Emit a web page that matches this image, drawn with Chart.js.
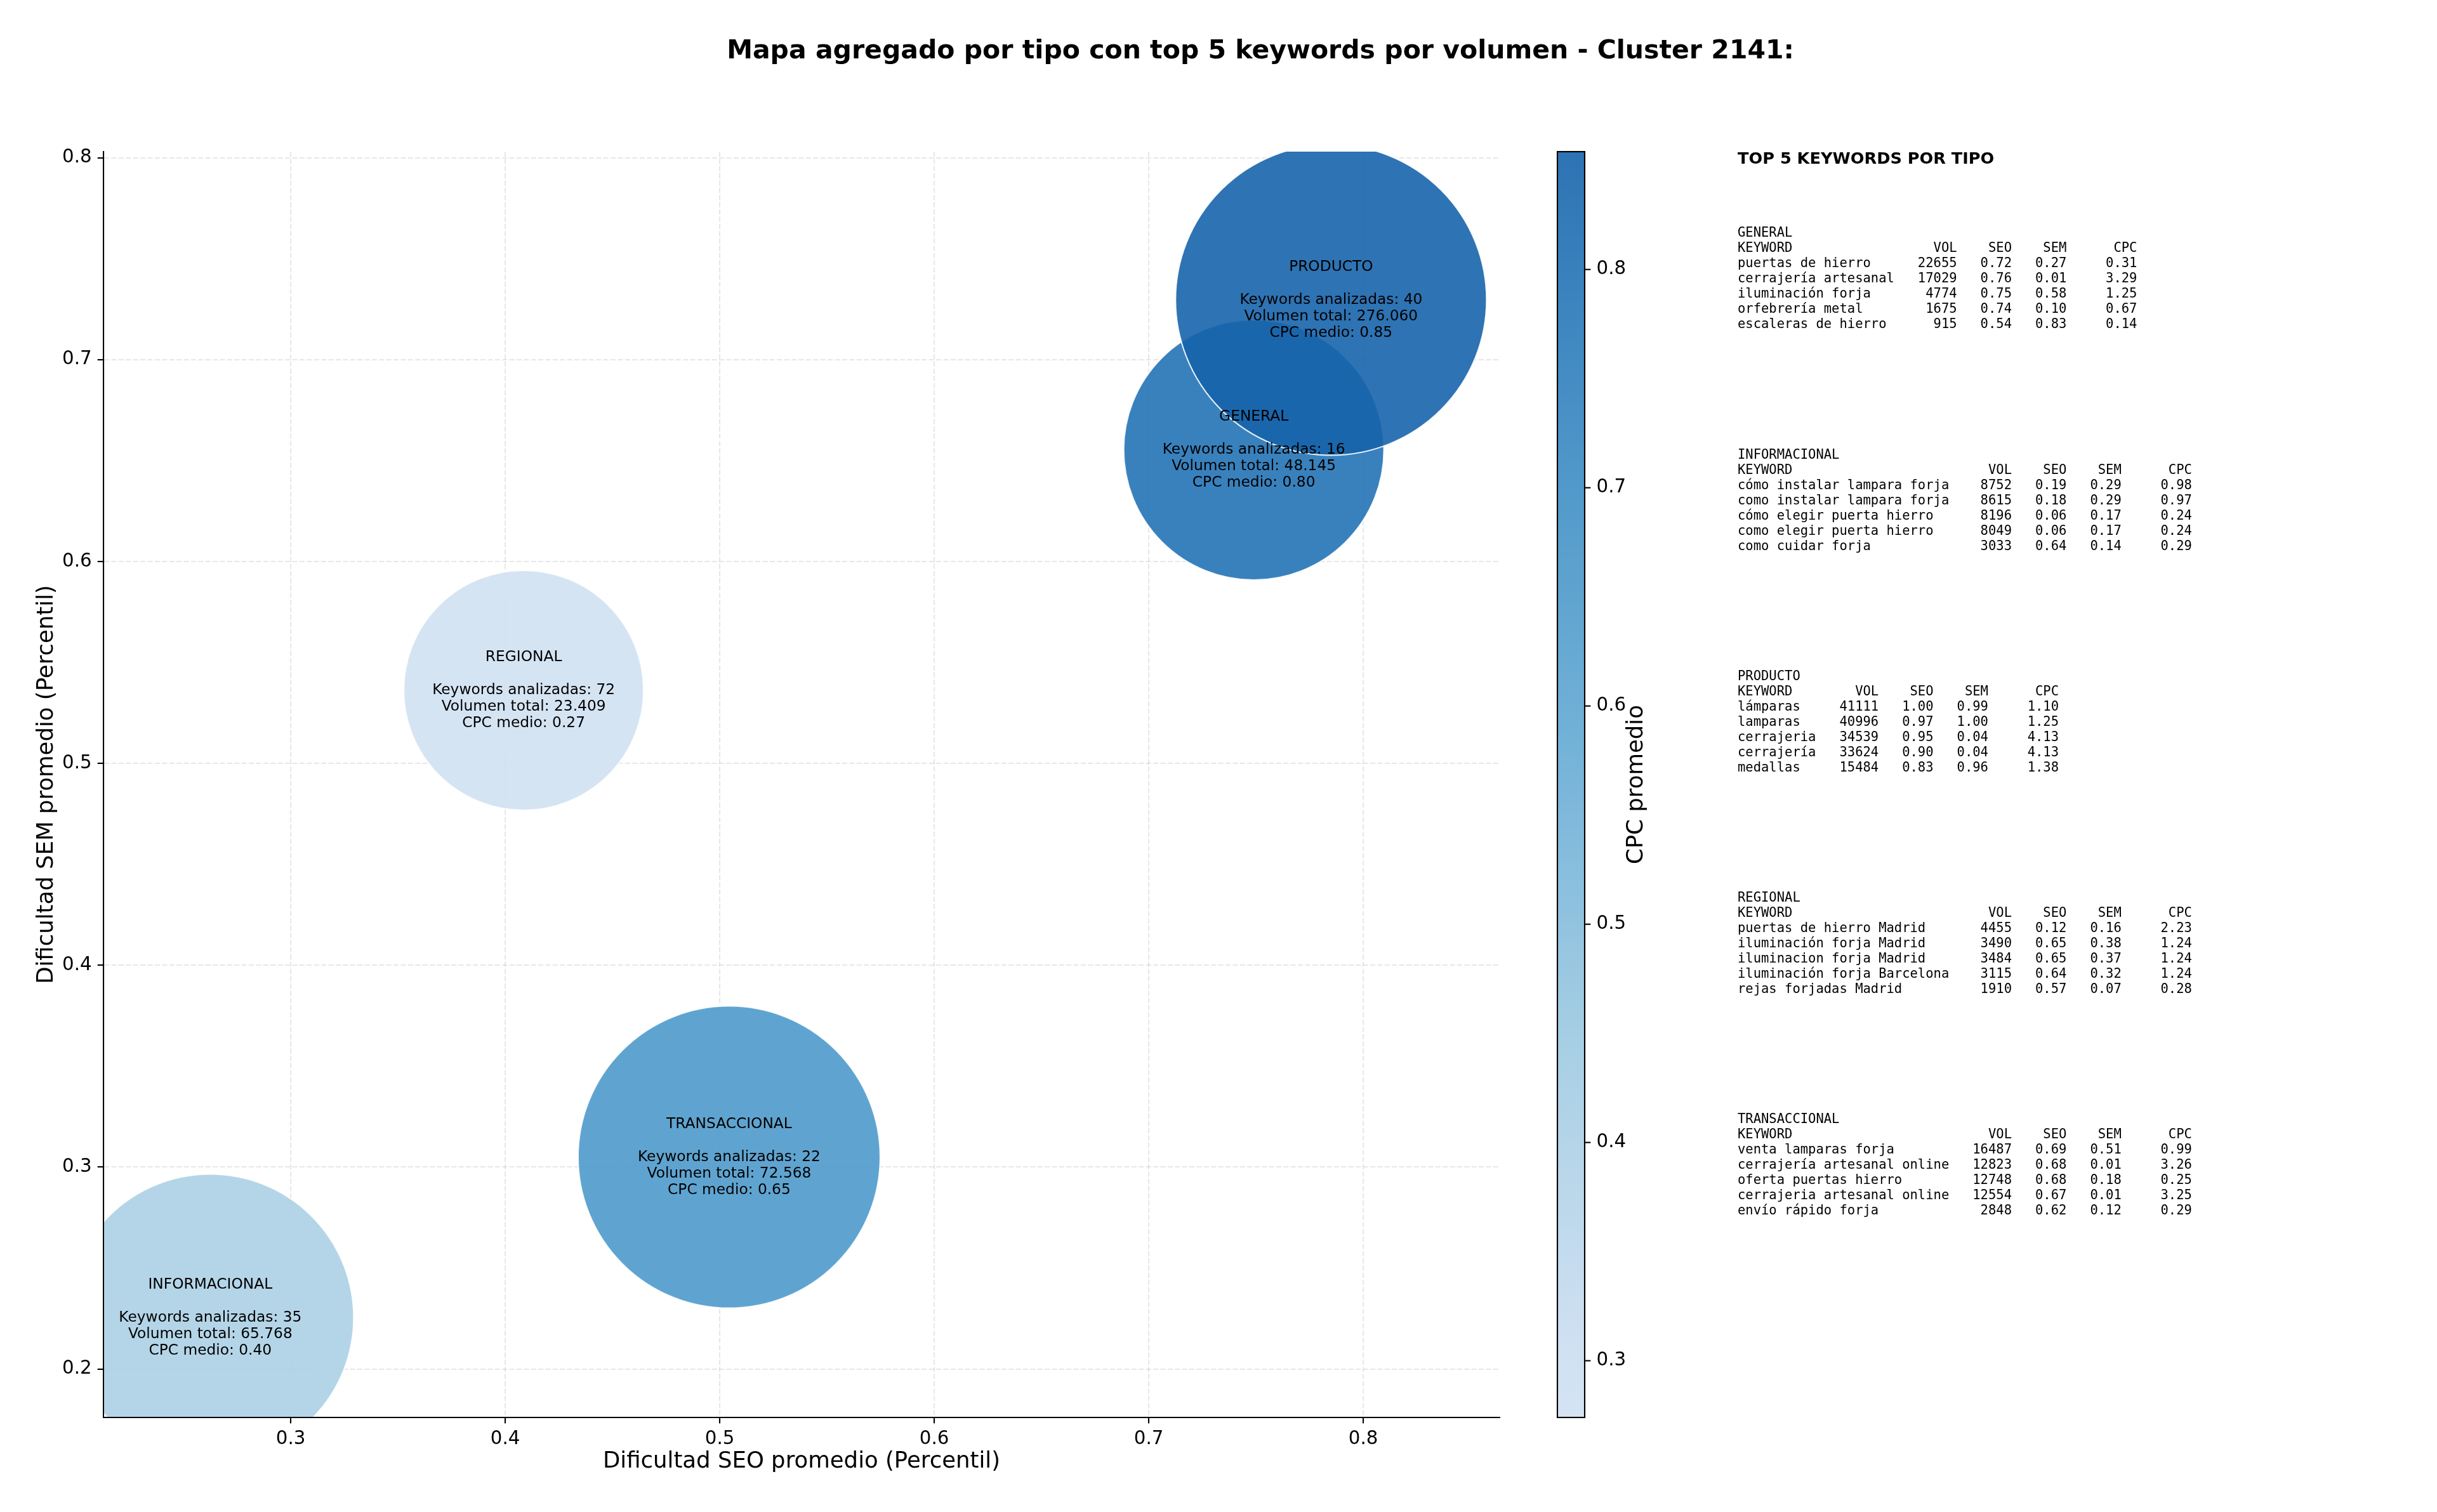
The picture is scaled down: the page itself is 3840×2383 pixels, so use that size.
<!DOCTYPE html>
<html>
<head>
<meta charset="utf-8">
<script src="https://cdn.jsdelivr.net/npm/chart.js@4.4.1/dist/chart.umd.min.js"></script>
<style>
  html, body { margin: 0; padding: 0; background: #fff; }
  #wrap { width: 3840px; height: 2383px; }
</style>
</head>
<body>
<div id="wrap"><canvas id="mapa" width="3840" height="2383"></canvas></div>
<script>
// valores agregados por tipo
var tipos = ["GENERAL", "INFORMACIONAL", "PRODUCTO", "REGIONAL", "TRANSACCIONAL"];
var seoMedio = [0.749, 0.2625, 0.785, 0.4086, 0.5044];
var semMedio = [0.6553, 0.2255, 0.7296, 0.5362, 0.3050];
var cpcMedio = [0.80, 0.40, 0.854, 0.274, 0.65];
var numKeywords = [16, 35, 40, 72, 22];
var volumenTotal = [48145, 65768, 276060, 23409, 72568];
var radioBurbuja = [205, 226, 245, 189, 238];

// ejes
var xTicks = [0.3, 0.4, 0.5, 0.6, 0.7, 0.8];
var yTicks = [0.2, 0.3, 0.4, 0.5, 0.6, 0.7, 0.8];
var cbTicks = [0.3, 0.4, 0.5, 0.6, 0.7, 0.8];
var xRange = [0.2127, 0.8636];
var yRange = [0.176, 0.803];

// top 5 keywords por tipo: keyword, vol, seo, sem, cpc
var topGeneral = [
  ["puertas de hierro", 22655, 0.72, 0.27, 0.31],
  ["cerrajería artesanal", 17029, 0.76, 0.01, 3.29],
  ["iluminación forja", 4774, 0.75, 0.58, 1.25],
  ["orfebrería metal", 1675, 0.74, 0.10, 0.67],
  ["escaleras de hierro", 915, 0.54, 0.83, 0.14]
];
var topInformacional = [
  ["cómo instalar lampara forja", 8752, 0.19, 0.29, 0.98],
  ["como instalar lampara forja", 8615, 0.18, 0.29, 0.97],
  ["cómo elegir puerta hierro", 8196, 0.06, 0.17, 0.24],
  ["como elegir puerta hierro", 8049, 0.06, 0.17, 0.24],
  ["como cuidar forja", 3033, 0.64, 0.14, 0.29]
];
var topProducto = [
  ["lámparas", 41111, 1.00, 0.99, 1.10],
  ["lamparas", 40996, 0.97, 1.00, 1.25],
  ["cerrajeria", 34539, 0.95, 0.04, 4.13],
  ["cerrajería", 33624, 0.90, 0.04, 4.13],
  ["medallas", 15484, 0.83, 0.96, 1.38]
];
var topRegional = [
  ["puertas de hierro Madrid", 4455, 0.12, 0.16, 2.23],
  ["iluminación forja Madrid", 3490, 0.65, 0.38, 1.24],
  ["iluminacion forja Madrid", 3484, 0.65, 0.37, 1.24],
  ["iluminación forja Barcelona", 3115, 0.64, 0.32, 1.24],
  ["rejas forjadas Madrid", 1910, 0.57, 0.07, 0.28]
];
var topTransaccional = [
  ["venta lamparas forja", 16487, 0.69, 0.51, 0.99],
  ["cerrajería artesanal online", 12823, 0.68, 0.01, 3.26],
  ["oferta puertas hierro", 12748, 0.68, 0.18, 0.25],
  ["cerrajeria artesanal online", 12554, 0.67, 0.01, 3.25],
  ["envío rápido forja", 2848, 0.62, 0.12, 0.29]
];
var topPorTipo = [topGeneral, topInformacional, topProducto, topRegional, topTransaccional];

var cpcMin = Math.min.apply(null, cpcMedio);
var cpcMax = Math.max.apply(null, cpcMedio);

// matplotlib "Blues"
var bluesStops = [
  [247, 251, 255], [222, 235, 247], [198, 219, 239], [158, 202, 225], [107, 174, 214],
  [66, 146, 198], [33, 113, 181], [8, 81, 156], [8, 48, 107]
];

function bluesColor(t) {
  var p = t * 8;
  var i = Math.min(7, Math.floor(p));
  var f = p - i;
  var a = bluesStops[i], b = bluesStops[i + 1];
  return [0, 1, 2].map(function (k) { return Math.round(a[k] + (b[k] - a[k]) * f); });
}

function cpcColor(v, alpha) {
  var n = (v - cpcMin) / (cpcMax - cpcMin);
  var c = bluesColor(0.2 + 0.6 * n);
  return "rgba(" + c.join(",") + "," + alpha + ")";
}

function formatMiles(n) {
  return String(n).replace(/\B(?=(\d{3})+(?!\d))/g, ".");
}

var FONT = "'DejaVu Sans', sans-serif";
var MONO = "'DejaVu Sans Mono', monospace";

// las burbujas grandes no deben empujar el area del grafico
Chart.BubbleController.prototype.getMaxOverflow = function () { return 0; };

// etiquetas dentro de las burbujas
var bubbleLabels = {
  id: "bubbleLabels",
  afterDatasetsDraw: function (chart) {
    var ctx = chart.ctx;
    var meta = chart.getDatasetMeta(0);
    ctx.save();
    ctx.font = "23.3px " + FONT;
    ctx.fillStyle = "#000";
    ctx.textAlign = "center";
    ctx.textBaseline = "middle";
    meta.data.forEach(function (pt, i) {
      var lines = [
        tipos[i],
        "",
        "Keywords analizadas: " + numKeywords[i],
        "Volumen total: " + formatMiles(volumenTotal[i]),
        "CPC medio: " + cpcMedio[i].toFixed(2)
      ];
      lines.forEach(function (txt, j) {
        ctx.fillText(txt, pt.x, pt.y + (j - 2) * 26);
      });
    });
    ctx.restore();
  }
};

// titulo, barra de color y tablas de la derecha
var extras = {
  id: "extras",
  afterDraw: function (chart) {
    var ctx = chart.ctx;
    var area = chart.chartArea;
    ctx.save();

    // titulo
    ctx.fillStyle = "#000";
    ctx.font = "bold 41px " + FONT;
    ctx.textAlign = "center";
    ctx.textBaseline = "middle";
    ctx.fillText("Mapa agregado por tipo con top 5 keywords por volumen - Cluster 2141:", 1986, 81);

    // barra de color
    var x0 = 2454, w = 43, top = area.top, bottom = area.bottom;
    var grad = ctx.createLinearGradient(0, bottom, 0, top);
    for (var i = 0; i <= 30; i++) {
      grad.addColorStop(i / 30, cpcColor(cpcMin + (cpcMax - cpcMin) * i / 30, 0.9));
    }
    ctx.fillStyle = grad;
    ctx.fillRect(x0, top, w, bottom - top);
    ctx.strokeStyle = "#000";
    ctx.lineWidth = 2.1;
    ctx.strokeRect(x0, top, w, bottom - top);

    ctx.fillStyle = "#000";
    ctx.font = "29.3px " + FONT;
    ctx.textAlign = "left";
    cbTicks.forEach(function (v) {
      var y = bottom - (v - cpcMin) / (cpcMax - cpcMin) * (bottom - top);
      ctx.beginPath();
      ctx.moveTo(x0 + w, y);
      ctx.lineTo(x0 + w + 9.3, y);
      ctx.stroke();
      ctx.fillText(v.toFixed(1), x0 + w + 18.6, y);
    });

    ctx.save();
    ctx.translate(2579, (top + bottom) / 2);
    ctx.rotate(-Math.PI / 2);
    ctx.textAlign = "center";
    ctx.font = "35.5px " + FONT;
    ctx.fillText("CPC promedio", 0, 0);
    ctx.restore();

    // tablas top 5
    ctx.textAlign = "left";
    ctx.font = "bold 25.6px " + FONT;
    ctx.fillText("TOP 5 KEYWORDS POR TIPO", 2738, 251);

    ctx.font = "20.5px " + MONO;
    topPorTipo.forEach(function (rows, t) {
      var y = 368 + t * 349.25;
      var kwLen = Math.max.apply(null, rows.map(function (r) { return r[0].length; }));
      var lines = [tipos[t],
        "KEYWORD".padEnd(kwLen) + "VOL".padStart(8) + "SEO".padStart(7) + "SEM".padStart(7) + "CPC".padStart(9)];
      rows.forEach(function (r) {
        lines.push(r[0].padEnd(kwLen) + String(r[1]).padStart(8) + r[2].toFixed(2).padStart(7) +
          r[3].toFixed(2).padStart(7) + r[4].toFixed(2).padStart(9));
      });
      lines.forEach(function (txt, j) {
        ctx.fillText(txt, 2738, y + j * 24);
      });
    });

    ctx.restore();
  }
};

function tickFmt(v) { return Number(v).toFixed(1); }

var gridOpts = {
  color: "rgba(176,176,176,0.3)",
  lineWidth: 2,
  tickColor: "#000",
  tickWidth: 2.1,
  tickLength: 9.3
};
var borderOpts = { color: "#000", width: 2.1, dash: [8, 3.4] };

var ctx = document.getElementById("mapa").getContext("2d");
var chart = new Chart(ctx, {
  type: "bubble",
  data: {
    datasets: [{
      label: "Tipos",
      data: tipos.map(function (t, i) {
        return { x: seoMedio[i], y: semMedio[i], r: radioBurbuja[i] };
      }),
      backgroundColor: cpcMedio.map(function (v) { return cpcColor(v, 0.9); }),
      borderColor: "rgba(255,255,255,0.9)",
      borderWidth: 2,
      hoverRadius: 0,
      clip: { left: -1.1, bottom: -1.1, top: 0, right: 0 }
    }]
  },
  options: {
    responsive: false,
    devicePixelRatio: 1,
    animation: false,
    events: [],
    layout: { padding: { top: 239, right: 1477, bottom: 0, left: 0 } },
    plugins: {
      legend: { display: false },
      tooltip: { enabled: false },
      title: { display: false }
    },
    scales: {
      x: {
        type: "linear",
        min: xRange[0],
        max: xRange[1],
        grid: gridOpts,
        border: borderOpts,
        afterBuildTicks: function (scale) {
          scale.ticks = xTicks.map(function (v) { return { value: v }; });
        },
        afterFit: function (scale) { scale.height = 149; },
        ticks: {
          callback: tickFmt,
          color: "#000",
          padding: 8,
          font: { family: FONT, size: 29.3 },
          maxRotation: 0
        },
        title: {
          display: true,
          text: "Dificultad SEO promedio (Percentil)",
          color: "#000",
          font: { family: FONT, size: 35.5 },
          padding: { top: 0, bottom: 58 }
        }
      },
      y: {
        type: "linear",
        min: yRange[0],
        max: yRange[1],
        grid: gridOpts,
        border: borderOpts,
        afterBuildTicks: function (scale) {
          scale.ticks = yTicks.map(function (v) { return { value: v }; });
        },
        afterFit: function (scale) { scale.width = 163; },
        ticks: {
          callback: tickFmt,
          color: "#000",
          padding: 9,
          font: { family: FONT, size: 29.3 }
        },
        title: {
          display: true,
          text: "Dificultad SEM promedio (Percentil)",
          color: "#000",
          font: { family: FONT, size: 35.5 },
          padding: { top: 52, bottom: 0 }
        }
      }
    }
  },
  plugins: [bubbleLabels, extras]
});
</script>
</body>
</html>
